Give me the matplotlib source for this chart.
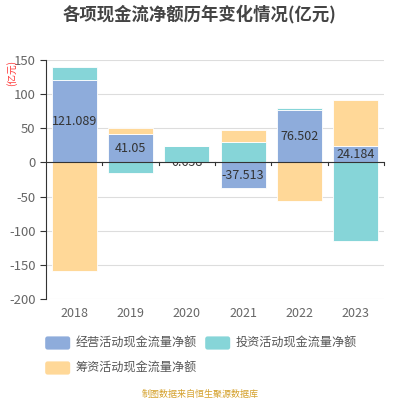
import matplotlib
matplotlib.use("Agg")
import matplotlib.pyplot as plt
from matplotlib.patches import FancyBboxPatch
import numpy as np

plt.rcParams['font.family'] = ['Noto Sans CJK SC', 'DejaVu Sans']

years = ['2018', '2019', '2020', '2021', '2022', '2023']
operating = [121.089, 41.05, 0.658, -37.513, 76.502, 24.184]
investing = [18.2, -16.2, 23.5, 30.4, 3.3, -115.7]
financing = [-158.4, 9.4, 0.5, 17.7, -55.9, 67.0]
series_names = ['经营活动现金流量净额', '投资活动现金流量净额', '筹资活动现金流量净额']
colors = ['#8eacdb', '#86d5d8', '#ffd898']
yticks = [-200, -150, -100, -50, 0, 50, 100, 150]

fig = plt.figure(figsize=(4, 4), dpi=100)
ax = fig.add_axes([0.115, 0.2525, 0.845, 0.5975])

x = np.arange(len(years))
pos_base = np.zeros(len(years))
neg_base = np.zeros(len(years))
zorders = [2, 3, 3]
for vals, c, z in zip([operating, investing, financing], colors, zorders):
    vals = np.array(vals)
    bottoms = np.where(vals >= 0, pos_base, neg_base)
    ax.bar(x, vals, bottom=bottoms, width=0.8, color=c, edgecolor='white',
           linewidth=0.6, zorder=z)
    pos_base = pos_base + np.where(vals >= 0, vals, 0)
    neg_base = neg_base + np.where(vals < 0, vals, 0)

for xi, v in zip(x, operating):
    ax.text(xi, v / 2, f'{v:g}', ha='center', va='center', fontsize=9,
            color='#333333', zorder=2.5)

ax.set_xlim(-0.5, len(years) - 0.5)
ax.set_ylim(-200, 150)
ax.set_yticks(yticks)
ax.set_yticklabels([str(t) for t in yticks])
ax.set_xticks(x)
ax.set_xticklabels(years)
ax.tick_params(axis='x', length=0, pad=6, labelsize=9, colors='#666666')
ax.tick_params(axis='y', length=4, width=0.8, labelsize=9.5, colors='#666666', color='#333333')
ax.grid(axis='y', color='#dddddd', linewidth=0.8, zorder=0)
for s in ['top', 'right', 'bottom']:
    ax.spines[s].set_visible(False)
ax.spines['left'].set_color('#333333')
ax.spines['left'].set_linewidth(0.8)
ax.axhline(0, color='#333333', linewidth=0.8, zorder=5)
for b in np.arange(0.5, len(years), 1.0):
    ax.plot([b, b], [0, -4], color='#333333', linewidth=0.8, zorder=5, clip_on=False)

fig.text(0.5, 0.965, '各项现金流净额历年变化情况(亿元)', ha='center', va='center',
         fontsize=12.5, fontweight='bold', color='#444444')
fig.text(0.028, 0.818, '(亿元)', ha='center', va='center', rotation=90,
         fontsize=7, color='#ff3333')

# legend
leg_items = [(0.113, 0.1425), (0.513, 0.1425), (0.113, 0.08)]
for (lx, ly), name, c in zip(leg_items, series_names, colors):
    patch = FancyBboxPatch((lx, ly - 0.0165), 0.0625, 0.033, boxstyle='round,pad=0,rounding_size=0.006',
                           transform=fig.transFigure, facecolor=c, edgecolor='none')
    fig.patches.append(patch)
    fig.text(lx + 0.077, ly, name, ha='left', va='center', fontsize=8.7, color='#555555')

fig.text(0.5, 0.015, '制图数据来自恒生聚源数据库', ha='center', va='center',
         fontsize=6.5, color='#d4a02a')

fig.savefig('out.png', dpi=100)
